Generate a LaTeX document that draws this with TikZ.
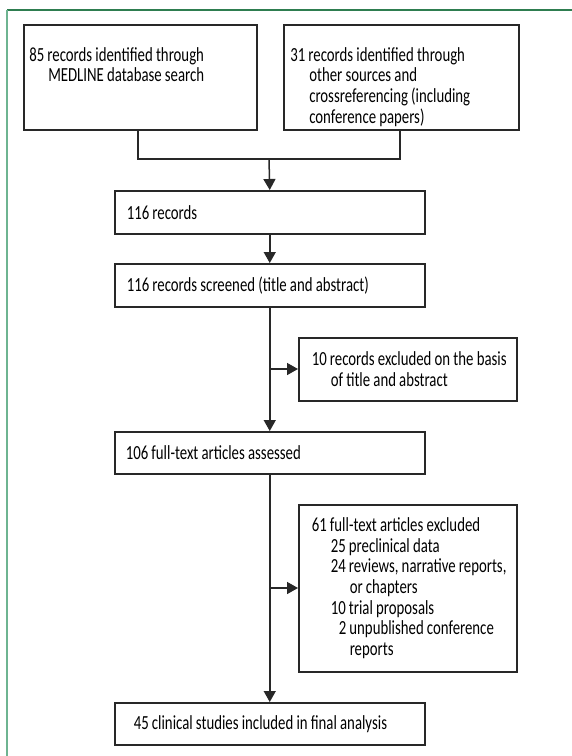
\documentclass[tikz,border=0pt]{standalone}
\usepackage{fontspec}
\setmainfont[FakeStretch=0.74]{Carlito}
\usetikzlibrary{positioning, arrows.meta}

\definecolor{framedark}{RGB}{46,125,80}
\definecolor{framelight}{RGB}{110,180,145}
\definecolor{boxline}{RGB}{40,40,40}

\newcommand{\hang}{\hspace*{9.5pt}}

\tikzset{
  box/.style={draw=boxline, line width=0.75pt, rectangle, anchor=north west,
    align=left, inner ysep=0pt, font=\fontsize{10}{10.35}\selectfont,
    execute at begin node={\spaceskip=0.16em plus 0.05em minus 0.03em}},
  side/.style={box, minimum width=109pt, text width=100pt, inner xsep=4.5pt,
    execute at begin node={\spaceskip=0.16em plus 0.05em minus 0.03em\leftskip=2pt}},
  source/.style={box, minimum height=52.5pt, text width=111pt, text height=17pt, text depth=33pt},
  flow/.style={draw=boxline, line width=0.75pt, -{Triangle[length=5.5pt,width=6pt]}},
  link/.style={draw=boxline, line width=0.75pt}
}

\begin{document}
\begin{tikzpicture}[x=0.5pt, y=-0.5pt]
   \useasboundingbox (0,0) rectangle (572,756);
   % frame
   \draw[framedark, line width=0.8pt] (7,10) -- (572,10);
   \draw[framelight, line width=0.8pt] (7,10) -- (7,756);

   % source boxes
   \node[source, minimum width=116.5pt, inner xsep=2.5pt] (mdl) at (23,24)
     {85 records identified through\\ \hang MEDLINE database search};
   \node[source, minimum width=117.5pt, inner xsep=3pt] (oth) at (283,24)
     {31 records identified through\\ \hang other sources and\\ \hang crossreferencing (including\\ \hang conference papers)};

   % main column
   \node[box, minimum width=155pt, minimum height=21.5pt, text width=143pt, inner xsep=6pt] (rec) at (114,190) {116 records};
   \node[box, minimum width=155pt, minimum height=21.5pt, text width=143pt, inner xsep=6pt] (scr) at (114,263) {116 records screened (title and abstract)};
   \node[side, minimum height=31.5pt] (exa) at (298,337)
     {10 records excluded on the basis\\ \hang of title and abstract};
   \node[box, minimum width=155pt, minimum height=21pt, text width=144pt, inner xsep=5.5pt] (ful) at (114,431) {106 full-text articles assessed};
   \node[side, minimum height=83.5pt] (exb) at (298,504)
     {61 full-text articles excluded\\
      \hang 25 preclinical data\\
      \hang 24 reviews, narrative reports,\\
      \hang\hang or chapters\\
      \hang 10 trial proposals\\
      \hang\hspace*{4pt}2 unpublished conference\\
      \hang\hang reports};
   \node[box, minimum width=155pt, minimum height=21pt, text width=136pt, inner xsep=9.5pt] (inc) at (114,702) {45 clinical studies included in final analysis};

   % connectors
   \coordinate (join) at (269,159);
   \coordinate (splita) at (269,369);
   \coordinate (splitb) at (269,588);
   \path[link] (mdl.south -| 138,0) |- (join) -| (oth.south -| 400,0);
   \path[flow] (join) -- (rec.north);
   \path[flow] (rec) -- (scr);
   \path[flow] (scr) -- (ful);
   \path[flow] (splita) -- (exa.west |- splita);
   \path[flow] (ful) -- (inc);
   \path[flow] (splitb) -- (exb.west |- splitb);
\end{tikzpicture}
\end{document}
